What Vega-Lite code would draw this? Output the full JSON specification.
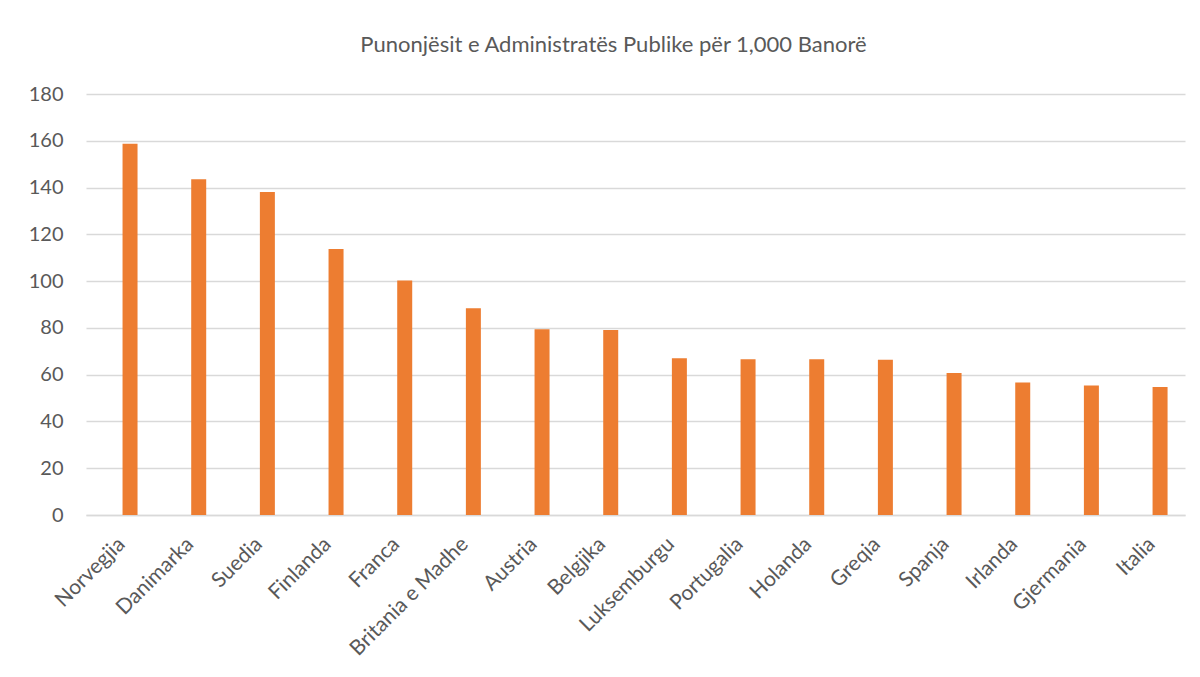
{
  "$schema": "https://vega.github.io/schema/vega-lite/v6.json",
  "autosize": "none",
  "width": 1099,
  "height": 421,
  "padding": {"left": 86, "top": 94, "right": 15, "bottom": 162},
  "background": "white",
  "config": {"view": {"stroke": null}, "font": "Lato"},
  "title": {
    "text": "Punonjësit e Administratës Publike për 1,000 Banorë",
    "font": "Lato",
    "fontSize": 22,
    "fontWeight": "normal",
    "color": "#595959",
    "anchor": "middle",
    "baseline": "alphabetic",
    "offset": 10,
    "dx": -22
  },
  "data": {
    "values": [
      {"country": "Norvegjia", "value": 158.7},
      {"country": "Danimarka", "value": 143.5},
      {"country": "Suedia", "value": 138.1},
      {"country": "Finlanda", "value": 113.7},
      {"country": "Franca", "value": 100.3},
      {"country": "Britania e Madhe", "value": 88.4},
      {"country": "Austria", "value": 79.4},
      {"country": "Belgjika", "value": 79.1},
      {"country": "Luksemburgu", "value": 67.0},
      {"country": "Portugalia", "value": 66.6},
      {"country": "Holanda", "value": 66.6},
      {"country": "Greqia", "value": 66.4},
      {"country": "Spanja", "value": 60.7},
      {"country": "Irlanda", "value": 56.7},
      {"country": "Gjermania", "value": 55.4},
      {"country": "Italia", "value": 54.7}
    ]
  },
  "mark": {"type": "bar", "color": "#ED7D31"},
  "encoding": {
    "x": {
      "field": "country",
      "type": "nominal",
      "sort": null,
      "title": null,
      "scale": {"paddingInner": 0.7816, "paddingOuter": 0.393, "align": 0.677},
      "axis": {
        "labelAngle": -45,
        "labelFont": "Lato",
        "labelFontSize": 21,
        "labelColor": "#595959",
        "ticks": false,
        "domain": true,
        "domainColor": "#D9D9D9",
        "domainWidth": 1.5,
        "labelPadding": 18,
        "labelOffset": -16
      }
    },
    "y": {
      "field": "value",
      "type": "quantitative",
      "title": null,
      "scale": {"domain": [0, 180], "nice": false},
      "axis": {
        "values": [0, 20, 40, 60, 80, 100, 120, 140, 160, 180],
        "labelFont": "Lato",
        "labelFontSize": 20,
        "labelColor": "#595959",
        "ticks": false,
        "domain": false,
        "gridColor": "#D9D9D9",
        "gridWidth": 1.5,
        "labelPadding": 23
      }
    }
  }
}
